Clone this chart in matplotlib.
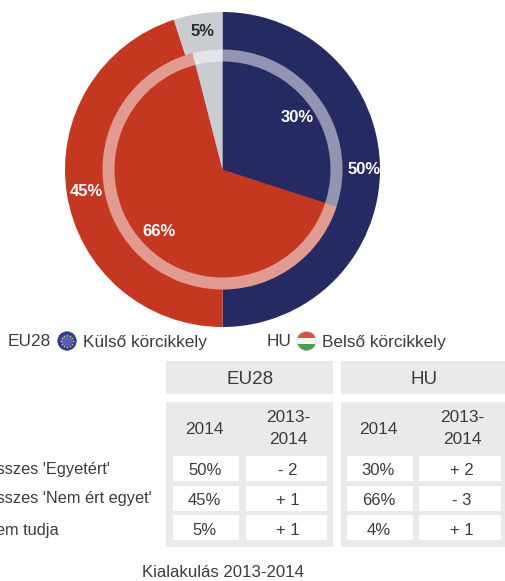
import matplotlib
matplotlib.use("Agg")
import numpy as np
import matplotlib.pyplot as plt
from matplotlib.patches import Rectangle, Circle

W, H = 505, 581
outer_values = [50, 45, 5]   # EU28
inner_values = [30, 66, 4]   # HU
colors = ["#262A63", "#C43822", "#C9CCD1"]
row_labels = ["Összes 'Egyetért'", "Összes 'Nem ért egyet'", "Nem tudja"]
eu_2014 = ["50%", "45%", "5%"]
eu_diff = ["- 2", "+ 1", "+ 1"]
hu_2014 = ["30%", "66%", "4%"]
hu_diff = ["+ 2", "- 3", "+ 1"]

plt.rcParams["font.family"] = ["Liberation Sans", "DejaVu Sans"]
TXT = "#3C3C3C"
HDR = "#E9EAEC"

fig = plt.figure(figsize=(W / 100, H / 100), dpi=100)
ax = fig.add_axes([0, 0, 1, 1])
Y = lambda p: H - p
C = (222.5, Y(169.5))

ax.pie(outer_values, colors=colors, radius=157.5, center=C, startangle=90, counterclock=False, frame=True)
ax.pie(inner_values, colors=colors, radius=120, center=C, startangle=90, counterclock=False, frame=True)
# translucent ring of the inner pie
ax.pie([1], colors=["white"], radius=120, center=C, frame=True,
       wedgeprops=dict(width=12, alpha=0.5, linewidth=0))
ax.set_xlim(0, W)
ax.set_ylim(0, H)
ax.set_aspect("equal")
ax.axis("off")

def label(x, y, s, size=12.4, color=TXT, **kw):
    kw.setdefault("ha", "center")
    kw.setdefault("va", "center")
    return ax.text(x, Y(y), s, fontsize=size, color=color, **kw)

for (x, y, s, c) in [(297, 117, f"{inner_values[0]}%", "white"),
                     (364, 170, f"{outer_values[0]}%", "white"),
                     (86, 192, f"{outer_values[1]}%", "white"),
                     (159, 231, f"{inner_values[1]}%", "white"),
                     (203, 32, f"{outer_values[2]}%", "#2A2A2A")]:
    label(x, y, s, size=12, color=c, fontweight="bold")

# legend
label(8, 342, "EU28", ha="left")
label(83, 342, "Külső körcikkely", ha="left")
label(267, 342, "HU", ha="left")
label(322, 342, "Belső körcikkely", ha="left")

# EU flag
ax.add_patch(Circle((67, Y(341)), 9.2, fc="#2F3C96", ec="#3A3F7A", lw=0.6))
ax.add_patch(Circle((67, Y(341)), 5.5, fc="#5560B4", ec="none"))
ang = np.deg2rad(np.arange(0, 360, 30))
ax.scatter(67 + 5.6 * np.cos(ang), Y(341) + 5.6 * np.sin(ang), s=1.5, c="#C9C070", linewidths=0)

# HU flag
hc = Circle((306.5, Y(341)), 9.4, fc="white", ec="#BBBBBB", lw=0.5)
ax.add_patch(hc)
for top, hgt, col in [(331.5, 6.3, "#D2553F"), (337.8, 6.3, "#F4F4F4"), (344.1, 6.4, "#4E9A57")]:
    r = Rectangle((297, Y(top + hgt)), 19, hgt, fc=col, ec="none")
    ax.add_patch(r)
    r.set_clip_path(hc)

# table
for x0, x1 in [(166, 333), (341, 505)]:
    ax.add_patch(Rectangle((x0, Y(394)), x1 - x0, 33, fc=HDR, ec="none"))
    ax.add_patch(Rectangle((x0, Y(547)), x1 - x0, 145, fc=HDR, ec="none"))
label(250, 379, "EU28", size=13.5)
label(424, 379, "HU", size=13.5)

rows = [(456, 481), (486, 511), (515, 540)]
row_text_y = [470.7, 500.3, 530.7]
cols = [(173, 239, 204.7, eu_2014), (246, 327, 288, eu_diff),
        (347, 413, 378.5, hu_2014), (419, 501, 462, hu_diff)]
for x0, x1, xm, vals in cols:
    if vals in (eu_2014, hu_2014):
        label(xm, 430, "2014")
    else:
        label(xm, 417.7, "2013-")
        label(xm, 440, "2014")
    for (y0, y1), ty, v in zip(rows, row_text_y, vals):
        ax.add_patch(Rectangle((x0, Y(y1)), x1 - x0, y1 - y0, fc="white", ec="none"))
        label(xm, ty, v, size=12)

for y, s in zip([468.3, 497.7, 530], row_labels):
    label(-16, y, s, ha="left", size=11.8)

label(223.5, 572.5, "Kialakulás 2013-2014", size=12.1)

fig.savefig("out.png", dpi=100)
